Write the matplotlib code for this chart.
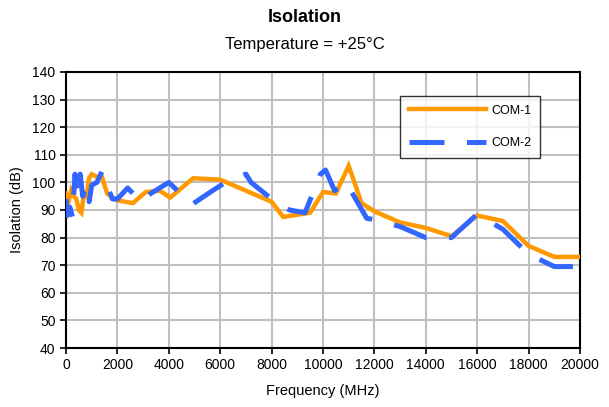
import matplotlib
matplotlib.use("Agg")
import matplotlib.pyplot as plt

plt.rcParams['font.family'] = ['Liberation Sans', 'DejaVu Sans']

com1_x = [0, 100, 200, 300, 400, 500, 600, 700, 800, 900, 1000, 1200, 1400, 1600, 1800,
          2000, 2600, 3100, 3650, 4050, 4950, 6000, 7000, 8000, 8450, 9500, 10000, 10500,
          11000, 11500, 12000, 13000, 14000, 15000, 16000, 17000, 18000, 19000, 20000]
com1_y = [96, 93, 97, 95, 94, 90, 89, 96, 95, 101.5, 103, 102, 102, 96, 94.5,
          93.5, 92.5, 96.5, 97, 94.5, 101.5, 101, 97, 93, 87.5, 89, 96.5, 96,
          106, 92.5, 89.5, 85.5, 83.5, 80.5, 88, 86, 77, 73, 73]

com2_x = [0, 50, 150, 250, 350, 450, 550, 650, 800, 900, 1000, 1200, 1400, 1800, 2000,
          2400, 2900, 3300, 4000, 4900, 5700, 6200, 7000, 7200, 8000, 8700, 9300, 9900,
          10100, 10450, 10900, 11700, 12000, 13000, 14000, 15000, 16000, 17000, 18000,
          19000, 20000]
com2_y = [94, 88, 91, 87.5, 103, 95, 103, 95, 99, 93, 99, 100, 104, 94, 94,
          98, 93, 96, 100, 92, 97, 100, 103, 100, 94, 90, 89, 103,
          104.5, 97, 100, 87, 86.5, 84, 80, 80, 88.5, 83, 74, 69.5, 69.5]

series_names = ['COM-1', 'COM-2']
title = 'Isolation'
subtitle = 'Temperature = +25°C'
xlabel = 'Frequency (MHz)'
ylabel = 'Isolation (dB)'

fig = plt.figure(figsize=(6.09, 4.07), dpi=100)
ax = fig.add_axes([66/609, 1-348/407, (580-66)/609, (348-72)/407])

ax.plot(com1_x, com1_y, color='#FF9900', lw=3.2, label=series_names[0],
        solid_joinstyle='miter', zorder=3)
ax.plot(com2_x, com2_y, color='#3366FF', lw=3.6, label=series_names[1],
        dashes=(7, 4.5), dash_capstyle='butt', zorder=4)

ax.set_xlim(0, 20000)
ax.set_ylim(40, 140)
ax.set_xticks(range(0, 20001, 2000))
ax.set_yticks(range(40, 141, 10))
ax.grid(True, color='#C0C0C0', lw=1.5)
ax.set_axisbelow(True)
for s in ax.spines.values():
    s.set_color('black')
    s.set_linewidth(1.5)
ax.tick_params(direction='out', length=4, width=1.2, labelsize=10, colors='black')

ax.set_xlabel(xlabel, fontsize=10.5, labelpad=8)
ax.set_ylabel(ylabel, fontsize=10.5, labelpad=6)

fig.text(0.5, 1 - 18/407, title, ha='center', va='center', fontsize=13, fontweight='bold')
fig.text(0.5, 1 - 45/407, subtitle, ha='center', va='center', fontsize=12)

leg = ax.legend(loc='upper left', bbox_to_anchor=((400-66)/514, (348-96)/276),
                borderaxespad=0, frameon=True, fancybox=False, edgecolor='black',
                fontsize=9, handlelength=6.2, labelspacing=1.65, borderpad=0.7,
                handletextpad=0.4)
leg.get_frame().set_linewidth(1.0)

fig.savefig('out.png', dpi=100)
